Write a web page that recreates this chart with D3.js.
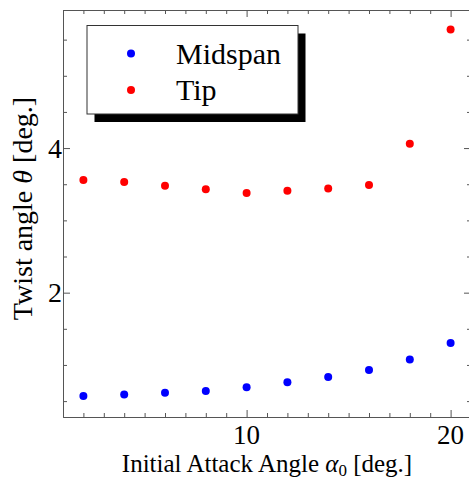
<!DOCTYPE html>
<html>
<head>
<meta charset="utf-8">
<script src="https://cdnjs.cloudflare.com/ajax/libs/d3/7.8.5/d3.min.js"></script>
<style>
  html, body { margin: 0; padding: 0; background: #fff; }
  svg { display: block; font-family: "Liberation Serif", "Times New Roman", serif; }
</style>
</head>
<body>
<svg id="chart" width="469" height="479"></svg>
<script>
// data
const attackAngles = [2, 4, 6, 8, 10, 12, 14, 16, 18, 20];
const midspan = [0.57, 0.59, 0.615, 0.64, 0.69, 0.76, 0.835, 0.93, 1.075, 1.305];
const tip = [3.56, 3.53, 3.48, 3.43, 3.38, 3.41, 3.44, 3.49, 4.06, 5.64];
const xMajor = [10, 20];
const xMinor = d3.range(1, 22, 1);
const yMajor = [2, 4];
const yMinor = d3.range(0.5, 6, 0.5);
const seriesNames = ["Midspan", "Tip"];
const seriesColors = ["#0000ff", "#ff0000"];

const width = 469, height = 479;
const margin = { left: 63, right: -2, top: 10, bottom: 62 };
const frameColor = "#555";

const svg = d3.select("#chart");

const x = d3.scaleLinear().domain([1, 21]).range([margin.left, width - margin.right]);
const y = d3.scaleLinear().domain([0.28, 5.91]).range([height - margin.bottom, margin.top]);

const x0 = x.range()[0], x1 = x.range()[1];
const y0 = y.range()[0], y1 = y.range()[1];

// ------------------------------------------------------------------
// frame + ticks
// ------------------------------------------------------------------
function styleAxis(g) {
  g.select(".domain").attr("stroke", frameColor);
  g.selectAll(".tick line").attr("stroke", frameColor);
  g.selectAll("text").remove();
}

const minorX = xMinor.filter(v => !xMajor.includes(v));
const minorY = yMinor.filter(v => !yMajor.includes(v));

// bottom
svg.append("g").attr("transform", `translate(0,${y0})`)
  .call(d3.axisBottom(x).tickValues(minorX).tickSizeInner(-4).tickSizeOuter(0)).call(styleAxis);
svg.append("g").attr("transform", `translate(0,${y0})`)
  .call(d3.axisBottom(x).tickValues(xMajor).tickSizeInner(-7).tickSizeOuter(0)).call(styleAxis);
// top
svg.append("g").attr("transform", `translate(0,${y1})`)
  .call(d3.axisTop(x).tickValues(minorX).tickSizeInner(-4).tickSizeOuter(0)).call(styleAxis);
svg.append("g").attr("transform", `translate(0,${y1})`)
  .call(d3.axisTop(x).tickValues(xMajor).tickSizeInner(-7).tickSizeOuter(0)).call(styleAxis);
// left
svg.append("g").attr("transform", `translate(${x0},0)`)
  .call(d3.axisLeft(y).tickValues(minorY).tickSizeInner(-4).tickSizeOuter(0)).call(styleAxis);
svg.append("g").attr("transform", `translate(${x0},0)`)
  .call(d3.axisLeft(y).tickValues(yMajor).tickSizeInner(-7).tickSizeOuter(0)).call(styleAxis);
// right
svg.append("g").attr("transform", `translate(${x1},0)`)
  .call(d3.axisRight(y).tickValues(minorY).tickSizeInner(-4).tickSizeOuter(0)).call(styleAxis);
svg.append("g").attr("transform", `translate(${x1},0)`)
  .call(d3.axisRight(y).tickValues(yMajor).tickSizeInner(-7).tickSizeOuter(0)).call(styleAxis);

// tick labels
svg.append("g").selectAll("text")
  .data(xMajor)
  .join("text")
  .attr("x", d => x(d))
  .attr("y", y0 + 27)
  .attr("text-anchor", "middle")
  .attr("font-size", 27)
  .text(d => d);

svg.append("g").selectAll("text")
  .data(yMajor)
  .join("text")
  .attr("x", x0 - 1)
  .attr("y", d => y(d))
  .attr("dy", "0.34em")
  .attr("text-anchor", "end")
  .attr("font-size", 28)
  .text(d => d);

// axis titles
const xTitle = svg.append("text")
  .attr("x", 267)
  .attr("y", 472)
  .attr("text-anchor", "middle")
  .attr("font-size", 25);
xTitle.append("tspan").text("Initial Attack Angle ");
xTitle.append("tspan").attr("font-style", "italic").text("α");
xTitle.append("tspan").attr("font-size", 17).attr("dy", 4).text("0");
xTitle.append("tspan").attr("dy", -4).text(" [deg.]");

const yTitle = svg.append("text")
  .attr("transform", "translate(32,208.5)rotate(-90)")
  .attr("text-anchor", "middle")
  .attr("font-size", 28);
yTitle.append("tspan").text("Twist angle ");
yTitle.append("tspan").attr("font-style", "italic").text("θ");
yTitle.append("tspan").text(" [deg.]");

// ------------------------------------------------------------------
// points
// ------------------------------------------------------------------
const series = [midspan, tip];
series.forEach((vals, i) => {
  svg.append("g").selectAll("circle")
    .data(attackAngles.map((a, j) => ({ a, v: vals[j] })))
    .join("circle")
    .attr("cx", d => x(d.a))
    .attr("cy", d => y(d.v))
    .attr("r", 4)
    .attr("fill", seriesColors[i]);
});

// ------------------------------------------------------------------
// legend with drop shadow
// ------------------------------------------------------------------
const legend = svg.append("g").attr("transform", "translate(87,25.5)");
const lw = 211, lh = 88.5;
legend.append("rect").attr("x", 7.5).attr("y", 8).attr("width", lw).attr("height", lh).attr("fill", "#000");
legend.append("rect").attr("width", lw).attr("height", lh).attr("fill", "#fff")
  .attr("stroke", "#333").attr("stroke-width", 1);

const items = legend.selectAll("g.item")
  .data(seriesNames)
  .join("g")
  .attr("class", "item")
  .attr("transform", (d, i) => `translate(0,${28 + i * 36.5})`);
items.append("circle").attr("cx", 44).attr("r", 4).attr("fill", (d, i) => seriesColors[i]);
items.append("text").attr("x", 89).attr("dy", "0.34em").attr("font-size", 30).text(d => d);
</script>
</body>
</html>
